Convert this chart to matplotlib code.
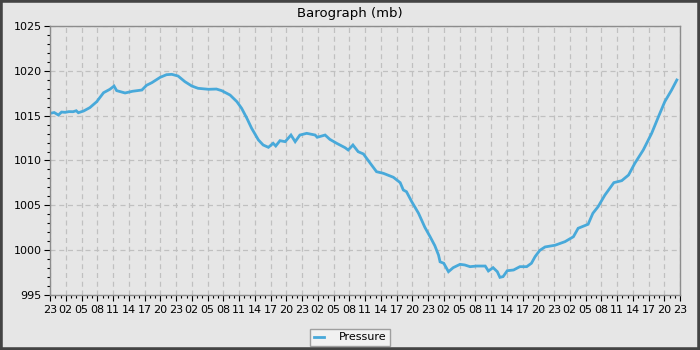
import matplotlib
matplotlib.use("Agg")
import matplotlib.pyplot as plt
from matplotlib.patches import Rectangle
from matplotlib.ticker import MultipleLocator

title = "Barograph (mb)"
series_name = "Pressure"

# hours since first tick (23:00), pressure in mb
hours = [0.0, 0.8, 1.6, 2.2, 2.9, 3.6, 4.4, 5.0, 5.4, 6.4, 7.6, 8.9, 10.2, 11.4,
         12.2, 12.7, 14.3, 15.7, 17.5, 18.4, 19.4, 21.0, 22.2, 23.2, 24.4, 25.7,
         27.0, 28.2, 30.2, 31.7, 32.7, 34.3, 35.6, 36.5, 37.5, 38.4, 39.7, 40.6,
         41.6, 42.5, 43.0, 43.8, 44.8, 45.9, 46.7, 47.6, 48.9, 50.5, 50.9, 52.4,
         53.3, 54.6, 56.2, 56.8, 57.7, 58.7, 59.7, 61.0, 62.2, 63.5, 65.4, 66.7,
         67.3, 67.9, 68.9, 70.2, 71.4, 72.4, 73.3, 74.0, 74.3, 75.0, 75.9, 76.8,
         78.1, 79.0, 80.0, 81.3, 82.9, 83.5, 84.4, 85.2, 85.7, 86.3, 87.1, 88.3,
         89.5, 90.8, 91.7, 92.4, 93.3, 94.3, 96.2, 98.1, 99.7, 100.6, 102.5,
         103.4, 104.4, 105.7, 107.4, 108.9, 110.2, 111.4, 113.0, 114.6, 115.9,
         117.1, 118.4, 119.4]
pressure = [1015.26, 1015.35, 1015.07, 1015.40, 1015.37, 1015.45, 1015.44, 1015.55,
            1015.33, 1015.52, 1015.90, 1016.56, 1017.56, 1017.94, 1018.30, 1017.79,
            1017.53, 1017.72, 1017.86, 1018.39, 1018.68, 1019.28, 1019.57, 1019.61,
            1019.42, 1018.79, 1018.31, 1018.05, 1017.94, 1017.97, 1017.79, 1017.30,
            1016.56, 1015.82, 1014.71, 1013.60, 1012.29, 1011.73, 1011.47, 1011.92,
            1011.62, 1012.21, 1012.10, 1012.84, 1012.10, 1012.84, 1013.03, 1012.84,
            1012.59, 1012.84, 1012.36, 1011.92, 1011.43, 1011.17, 1011.73, 1010.98,
            1010.73, 1009.69, 1008.75, 1008.57, 1008.13, 1007.53, 1006.71, 1006.52,
            1005.41, 1004.11, 1002.55, 1001.50, 1000.50, 999.46, 998.70, 998.54,
            997.60, 998.05, 998.42, 998.35, 998.16, 998.23, 998.23, 997.68, 998.05,
            997.60, 996.97, 997.05, 997.71, 997.79, 998.16, 998.16, 998.54, 999.28,
            999.98, 1000.36, 1000.55, 1000.95, 1001.50, 1002.44, 1002.89, 1004.11,
            1004.85, 1006.15, 1007.53, 1007.75, 1008.38, 1009.69, 1011.17, 1013.03,
            1014.89, 1016.56, 1017.86, 1018.98]

x_tick_labels = ["23", "02", "05", "08", "11", "14", "17", "20",
                 "23", "02", "05", "08", "11", "14", "17", "20",
                 "23", "02", "05", "08", "11", "14", "17", "20",
                 "23", "02", "05", "08", "11", "14", "17", "20",
                 "23", "02", "05", "08", "11", "14", "17", "20",
                 "23"]
y_ticks = [995, 1000, 1005, 1010, 1015, 1020, 1025]

bg = "#e6e6e6"
line_color = "#48a9da"

fig = plt.figure(figsize=(7, 3.5), dpi=100, facecolor=bg)
ax = fig.add_axes([50/700, 1-295/350, 630/700, 269/350])
ax.set_facecolor(bg)

ax.plot(hours, pressure, color=line_color, linewidth=2.0, label=series_name,
        solid_joinstyle="miter")

x_ticks = [3 * i for i in range(len(x_tick_labels))]
ax.set_xlim(0, 120)
ax.set_ylim(995, 1025)
ax.set_xticks(x_ticks)
ax.set_xticklabels(x_tick_labels)
ax.xaxis.set_minor_locator(MultipleLocator(1))
ax.set_yticks(y_ticks)
ax.yaxis.set_minor_locator(MultipleLocator(1))

ax.tick_params(axis="both", which="major", length=4, width=0.8, color="black",
               labelsize=8, pad=2)
ax.tick_params(axis="both", which="minor", length=2.5, width=0.8, color="black")
ax.tick_params(axis="x", which="major", pad=3)

for s in ax.spines.values():
    s.set_color("#8c8c8c")
    s.set_linewidth(1.0)

ax.grid(True, which="major", color="#c0c0c0", linestyle=(0, (4, 3)), linewidth=0.9)
ax.set_axisbelow(True)

fig.text(0.5, 1 - 13/350, title, ha="center", va="center", fontsize=9.5)

leg = fig.legend(loc="center", bbox_to_anchor=(0.5, 1 - 337.5/350), fontsize=8,
                 frameon=True, fancybox=False, handlelength=0.9,
                 borderpad=0.35, handletextpad=1.3, borderaxespad=0)
leg.get_frame().set_facecolor("#f4f4f4")
leg.get_frame().set_edgecolor("#8c8c8c")
leg.get_frame().set_linewidth(1.0)

fig.patches.append(Rectangle((0, 0), 1, 1, transform=fig.transFigure,
                             fill=False, edgecolor="#444444", linewidth=4,
                             zorder=10))

fig.savefig("out.png", dpi=100, facecolor=bg)
